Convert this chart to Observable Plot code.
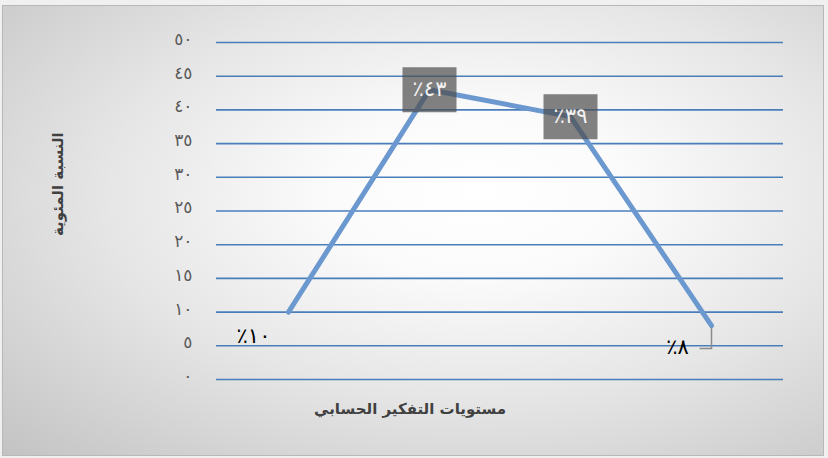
<!DOCTYPE html>
<html>
<head>
<meta charset="utf-8">
<script src="https://cdn.jsdelivr.net/npm/d3@7"></script>
<script src="https://cdn.jsdelivr.net/npm/@observablehq/plot@0.6"></script>
<style>
  html, body { margin: 0; padding: 0; background: #ffffff; }
  #wrap { position: relative; width: 828px; height: 458px; overflow: hidden; background: #f0f0f0; }
  #bg { position: absolute; left: 2px; top: 5px; width: 822px; height: 451px;
        border: 1px solid #b8b8b8; box-sizing: border-box;
        background: radial-gradient(ellipse farthest-corner at 58% 42%, #ffffff 0%, #fbfbfb 22%, #e6e6e6 55%, #c3c3c3 100%); }
  #chart { position: absolute; left: 0; top: 0; }
  svg { font-family: "DejaVu Sans", sans-serif; }
</style>
</head>
<body>
<div id="wrap"><div id="bg"></div><div id="chart"></div></div>
<script>
// Data
const categories = ["1", "2", "3", "4"];
const values = [10, 43, 39, 8];
const valueLabels = ["٪١٠", "٪٤٣", "٪٣٩", "٪٨"];
const yTicks = [0, 5, 10, 15, 20, 25, 30, 35, 40, 45, 50];
const yTickLabels = ["٠", "٥", "١٠", "١٥", "٢٠", "٢٥", "٣٠", "٣٥", "٤٠", "٤٥", "٥٠"];
const yTitle = "النسبة المئوية";
const xTitle = "مستويات التفكير الحسابي";

const data = categories.map((c, i) => ({cat: c, value: values[i], label: valueLabels[i]}));
const boxed = data.filter((d, i) => i === 1 || i === 2);
const first = data.filter((d, i) => i === 0);
const last = data.filter((d, i) => i === 3);

const boxSymbol = { draw(ctx) { ctx.rect(-27, -22.5, 54, 45); } };
const leaderSymbol = { draw(ctx) { ctx.moveTo(0, 2); ctx.lineTo(0, 23); ctx.lineTo(-12, 23); } };

const chart = Plot.plot({
  width: 828,
  height: 458,
  marginLeft: 216,
  marginRight: 45,
  marginTop: 42,
  marginBottom: 79,
  style: { background: "transparent", overflow: "visible" },
  x: { type: "point", domain: categories, padding: 0.5, axis: null },
  y: { domain: [0, 50], axis: null },
  marks: [
    Plot.ruleY(yTicks, { stroke: "#4a7ebb", strokeWidth: 1.6 }),
    Plot.text(yTicks, { x: null, y: d => d, frameAnchor: "left", dx: -24, dy: -3, textAnchor: "end",
      text: (d, i) => yTickLabels[i], fill: "#595959", fontSize: 17 }),
    Plot.line(data, { x: "cat", y: "value", stroke: "#6b98cf", strokeWidth: 5, strokeLinecap: "round" }),
    Plot.dot(boxed, { x: "cat", y: "value", symbol: boxSymbol, fill: "#4d4d4d", fillOpacity: 0.7, stroke: "none" }),
    Plot.text(boxed, { x: "cat", y: "value", text: "label", fill: "#f2f2f2", fontSize: 21 }),
    Plot.text(first, { x: "cat", y: "value", text: "label", dx: -35, dy: 24, fill: "#000000", fontSize: 21 }),
    Plot.text(last, { x: "cat", y: "value", text: "label", dx: -34, dy: 22, fill: "#000000", fontSize: 21 }),
    Plot.dot(last, { x: "cat", y: "value", symbol: leaderSymbol, fill: "none", stroke: "#8c8c8c", strokeWidth: 1.5 }),
    Plot.text([yTitle], { frameAnchor: "left", dx: -158, dy: 25, rotate: -90, fill: "#404040", fontSize: 15, fontWeight: "bold" }),
    Plot.text([xTitle], { frameAnchor: "bottom", dx: -90, dy: 34, fill: "#404040", fontSize: 15, fontWeight: "bold" })
  ]
});
document.getElementById("chart").appendChild(chart);
</script>
</body>
</html>
